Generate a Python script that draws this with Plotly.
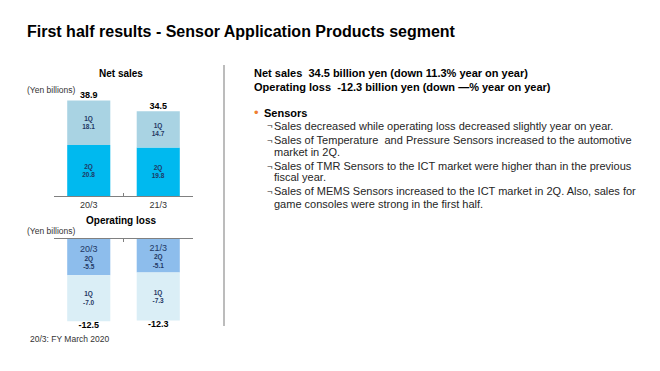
import plotly.graph_objects as go

# ---------------- data ----------------
categories = ["20/3", "21/3"]
ns_q2 = [20.8, 19.8]
ns_q1 = [18.1, 14.7]
ns_total = [38.9, 34.5]
op_q2 = [-5.5, -5.1]
op_q1 = [-7.0, -7.3]
op_total = [-12.5, -12.3]

title_text = "First half results - Sensor Application Products segment"
header_lines = [
    "Net sales  34.5 billion yen (down 11.3% year on year)",
    "Operating loss  -12.3 billion yen (down \u2014% year on year)",
]
section_title = "Sensors"
body_lines = [
    (True, "Sales decreased while operating loss decreased slightly year on year."),
    (True, "Sales of Temperature  and Pressure Sensors increased to the automotive"),
    (False, "market in 2Q."),
    (True, "Sales of TMR Sensors to the ICT market were higher than in the previous"),
    (False, "fiscal year."),
    (True, "Sales of MEMS Sensors increased to the ICT market in 2Q. Also, sales for"),
    (False, "game consoles were strong in the first half."),
]
footnote = "20/3: FY March 2020"

# ---------------- style ----------------
W, H = 660, 371
FONT = "Liberation Sans, Arial, sans-serif"
C_NS_Q2 = "#00B9EF"
C_NS_Q1 = "#A9D3E3"
C_OP_Q2 = "#8DBDEC"
C_OP_Q1 = "#DAEEF6"
C_INNER = "#1F3864"
C_AXIS = "#808080"


def px(x):
    return x / W


def py(y):
    return 1 - y / H


fig = go.Figure()

inner_font = dict(family=FONT, size=6.5, color=C_INNER)

# Net sales (stacked): 2Q bottom, 1Q top
fig.add_trace(go.Bar(
    x=categories, y=ns_q2, xaxis="x", yaxis="y",
    marker=dict(color=C_NS_Q2, line=dict(width=0)),
    text=[f"<b>2Q<br>{v:.1f}</b>" for v in ns_q2],
    textposition="inside", insidetextanchor="middle", textangle=0,
    constraintext="none", textfont=inner_font, hoverinfo="skip",
))
fig.add_trace(go.Bar(
    x=categories, y=ns_q1, xaxis="x", yaxis="y",
    marker=dict(color=C_NS_Q1, line=dict(width=0)),
    text=[f"<b>1Q<br>{v:.1f}</b>" for v in ns_q1],
    textposition="inside", insidetextanchor="middle", textangle=0,
    constraintext="none", textfont=inner_font, hoverinfo="skip",
))
fig.add_trace(go.Scatter(
    x=categories, y=ns_total, xaxis="x", yaxis="y", mode="text",
    text=[f"<b>{v:.1f}</b>" for v in ns_total], textposition="top center",
    textfont=dict(family=FONT, size=9, color="#000000"),
    cliponaxis=False, hoverinfo="skip",
))

# Operating loss (stacked negative): 2Q near axis, 1Q below
fig.add_trace(go.Bar(
    x=categories, y=op_q2, xaxis="x2", yaxis="y2",
    marker=dict(color=C_OP_Q2, line=dict(width=0)),
    text=[f"<span style='font-size:9px'>{c}</span><br><b>2Q<br>{v:.1f}</b>"
          for c, v in zip(categories, op_q2)],
    textposition="inside", insidetextanchor="middle", textangle=0,
    constraintext="none", textfont=inner_font, hoverinfo="skip",
))
fig.add_trace(go.Bar(
    x=categories, y=op_q1, xaxis="x2", yaxis="y2",
    marker=dict(color=C_OP_Q1, line=dict(width=0)),
    text=[f"<b>1Q<br>{v:.1f}</b>" for v in op_q1],
    textposition="inside", insidetextanchor="middle", textangle=0,
    constraintext="none", textfont=inner_font, hoverinfo="skip",
))
fig.add_trace(go.Scatter(
    x=categories, y=op_total, xaxis="x2", yaxis="y2", mode="text",
    text=[f"<b>{v:.1f}</b>" for v in op_total], textposition="bottom center",
    textfont=dict(family=FONT, size=9, color="#000000"),
    cliponaxis=False, hoverinfo="skip",
))

ns_scale = 2.455  # px per unit
op_scale = 6.57
x_dom = [px(54), px(193)]

axis_common = dict(
    type="category", categoryorder="array", categoryarray=categories,
    showline=True, linecolor=C_AXIS, linewidth=1, showgrid=False,
    zeroline=False, ticks="inside", tickson="boundaries", ticklen=3,
    tickcolor=C_AXIS, fixedrange=True,
)

fig.update_layout(
    width=W, height=H, margin=dict(l=0, r=0, t=0, b=0),
    paper_bgcolor="white", plot_bgcolor="rgba(0,0,0,0)",
    barmode="relative", bargap=0.38, showlegend=False,
    font=dict(family=FONT, color="#262626"),
    xaxis=dict(domain=x_dom, anchor="y",
               tickfont=dict(family=FONT, size=9, color="#333333"),
               **axis_common),
    yaxis=dict(domain=[py(196), py(66)], range=[0, (196 - 66) / ns_scale],
               visible=False, showgrid=False, zeroline=False, fixedrange=True),
    xaxis2=dict(domain=x_dom, anchor="y2", side="top", showticklabels=False,
                **axis_common),
    yaxis2=dict(domain=[py(345), py(239)], range=[-(345 - 239) / op_scale, 0],
                visible=False, showgrid=False, zeroline=False, fixedrange=True),
)

# divider line
fig.add_shape(type="line", xref="paper", yref="paper",
              x0=px(224), x1=px(224), y0=py(65), y1=py(326),
              line=dict(color="#A6A6A6", width=1.5))


def note(x, y, text, size, bold=False, color="#262626", xanchor="left"):
    fig.add_annotation(
        xref="paper", yref="paper", x=px(x), y=py(y),
        xanchor=xanchor, yanchor="middle", showarrow=False,
        text=f"<b>{text}</b>" if bold else text,
        font=dict(family=FONT, size=size, color=color),
    )


note(25, 31.5, title_text, 16, bold=True, color="#000000")

note(120.5, 73, "Net sales", 10, bold=True, color="#000000", xanchor="center")
note(25, 90, "(Yen billions)", 8.5, color="#333333")
note(121, 221, "Operating loss", 10, bold=True, color="#000000", xanchor="center")
note(25, 231, "(Yen billions)", 8.5, color="#333333")
note(28, 339, footnote, 8.5, color="#333333")

note(252, 72.7, header_lines[0], 11, bold=True, color="#000000")
note(252, 86.7, header_lines[1], 11, bold=True, color="#000000")

note(251.5, 112.5, "\u2022", 13, color="#EE7E32")
note(262, 113, section_title, 11, bold=True, color="#000000")

body_y = [125.7, 140, 151.7, 166, 177.3, 191, 204.3]
for (has_mark, line), y in zip(body_lines, body_y):
    if has_mark:
        note(264.5, y, "\u00ac", 9.5, color="#262626")
    note(272, y, line, 11, color="#262626")

fig.write_html(
    "out.html",
    config={"displayModeBar": False},
    post_script="document.body.style.margin='0px';document.body.style.padding='0px';",
)
